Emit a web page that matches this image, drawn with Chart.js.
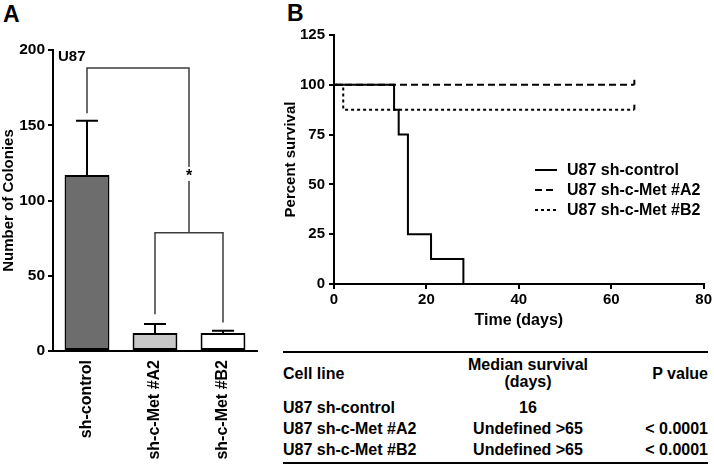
<!DOCTYPE html>
<html>
<head>
<meta charset="utf-8">
<script src="https://cdn.jsdelivr.net/npm/chart.js@4.4.1/dist/chart.umd.min.js"></script>
<style>
	html, body { margin: 0; padding: 0; }
	body { background: #fff; width: 714px; height: 467px; position: relative; overflow: hidden;
		font-family: "Liberation Sans", Arial, sans-serif; font-weight: bold; color: #000; }
	.panel { position: absolute; font-size: 23px; line-height: 1; }
	#colonyChart { position: absolute; left: 0; top: 0; }
	#survChart { position: absolute; left: 270px; top: 0; }
	#survTable { position: absolute; left: 283px; top: 351px; width: 425px; border-collapse: collapse;
		table-layout: fixed; font-size: 16px; border-top: 2px solid #000; }
	#survTable td, #survTable th { padding: 0; height: 21px; line-height: 17px; white-space: nowrap; }
	#survTable th { height: 40px; font-weight: bold; }
	#survTable tr.first td { padding-top: 4px; }
	.rule { position: absolute; left: 283px; top: 462px; width: 425px; height: 2px; background: #000; z-index: 5; }
	.c1 { text-align: left; width: 160px; }
	.c2 { text-align: center; width: 170px; }
	.c3 { text-align: right; width: 95px; }
</style>
</head>
<body>
<div class="panel" style="left:3px;top:3px">A</div>
<div class="panel" style="left:287px;top:2px">B</div>
<canvas id="colonyChart" width="262" height="467"></canvas>
<canvas id="survChart" width="444" height="334"></canvas>
<table id="survTable"></table>
<div class="rule"></div>

<script>
// panel A - colony counts
const colonyGroups = ["sh-control", "sh-c-Met #A2", "sh-c-Met #B2"];
const colonyMeans = [117, 12, 12];
const colonyErrors = [36, 6, 1.5];
const barColors = ["#6d6d6d", "#c8c8c8", "#ffffff"];
// significance brackets, in colony units
const bracketOuter = 188;
const bracketInner = 78.5;
const bracketLegs = [158, 24.5, 19];

// panel B - Kaplan-Meier curves
const survivalLabels = ["U87 sh-control", "U87 sh-c-Met #A2", "U87 sh-c-Met #B2"];
const controlDays = [0, 13, 14, 16, 21, 28];
const controlSurvival = [100, 87.5, 75, 25, 12.5, 0];
const a2Days = [0, 65];
const a2Survival = [100, 100];
const b2Days = [0, 2, 65];
const b2Survival = [100, 87.5, 87.5];

// table under panel B
const tableCellLines = ["U87 sh-control", "U87 sh-c-Met #A2", "U87 sh-c-Met #B2"];
const tableMedians = ["16", "Undefined >65", "Undefined >65"];
const tablePValues = ["", "< 0.0001", "< 0.0001"];

Chart.defaults.font.family = "'Liberation Sans', Arial, sans-serif";
Chart.defaults.font.weight = "bold";
Chart.defaults.font.size = 15;
Chart.defaults.color = "#000";

function toPoints(xs, ys) {
	return xs.map(function (x, i) {
		return { x: x, y: ys[i] };
	});
}

var colonyExtras = {
	id: "colonyExtras",
	afterDatasetsDraw: function (chart) {
		var ctx = chart.ctx;
		var y = chart.scales.y;
		var bars = chart.getDatasetMeta(0).data;
		ctx.save();

		// error bars (upper only)
		ctx.strokeStyle = "#000";
		ctx.lineWidth = 2;
		bars.forEach(function (bar, i) {
			var top = y.getPixelForValue(colonyMeans[i] + colonyErrors[i]);
			ctx.beginPath();
			ctx.moveTo(bar.x, bar.y);
			ctx.lineTo(bar.x, top);
			ctx.moveTo(bar.x - 11, top);
			ctx.lineTo(bar.x + 11, top);
			ctx.stroke();
		});

		// brackets
		var xm = (bars[1].x + bars[2].x) / 2;
		ctx.strokeStyle = "#3c3c3c";
		ctx.lineWidth = 1.5;
		ctx.beginPath();
		ctx.moveTo(bars[0].x, y.getPixelForValue(bracketLegs[0]));
		ctx.lineTo(bars[0].x, y.getPixelForValue(bracketOuter));
		ctx.lineTo(xm, y.getPixelForValue(bracketOuter));
		ctx.lineTo(xm, y.getPixelForValue(bracketInner));
		ctx.moveTo(bars[1].x, y.getPixelForValue(bracketLegs[1]));
		ctx.lineTo(bars[1].x, y.getPixelForValue(bracketInner));
		ctx.lineTo(bars[2].x, y.getPixelForValue(bracketInner));
		ctx.lineTo(bars[2].x, y.getPixelForValue(bracketLegs[2]));
		ctx.stroke();

		// asterisk over the bracket
		var ay = y.getPixelForValue(117);
		ctx.fillStyle = "#fff";
		ctx.fillRect(xm - 5, ay - 8, 10, 14);
		ctx.fillStyle = "#000";
		ctx.font = "bold 16px 'Liberation Sans', Arial";
		ctx.textAlign = "center";
		ctx.textBaseline = "middle";
		ctx.fillText("*", xm, ay + 2);

		// cell line label
		ctx.textAlign = "left";
		ctx.textBaseline = "top";
		ctx.font = "bold 15px 'Liberation Sans', Arial";
		ctx.fillText("U87", chart.chartArea.left + 5, y.getPixelForValue(200) - 1);
		ctx.restore();
	},
};

new Chart(document.getElementById("colonyChart"), {
	type: "bar",
	data: {
		labels: colonyGroups,
		datasets: [
			{
				data: colonyMeans,
				backgroundColor: barColors,
				borderColor: "#000",
				borderWidth: 2,
				borderSkipped: false,
				barPercentage: 0.66,
				categoryPercentage: 1,
			},
		],
	},
	options: {
		responsive: false,
		animation: false,
		layout: { padding: { top: 50, right: 5, left: 0, bottom: 0 } },
		plugins: { legend: { display: false }, tooltip: { enabled: false } },
		scales: {
			x: {
				grid: { display: false, drawTicks: false },
				border: { color: "#000", width: 2 },
				ticks: { minRotation: 90, maxRotation: 90, padding: 9, font: { size: 16 } },
				afterFit: function (s) { s.height = 116; },
			},
			y: {
				min: 0,
				max: 200,
				ticks: { stepSize: 50, padding: 3, font: { size: 15.5 } },
				grid: { drawOnChartArea: false, tickLength: 5, color: "#000", lineWidth: 2 },
				border: { color: "#000", width: 2 },
				title: { display: true, text: "Number of Colonies", font: { size: 15 }, padding: { top: 0, bottom: 0 } },
				afterFit: function (s) { s.width = 53; },
			},
		},
	},
	plugins: [colonyExtras],
});

var survExtras = {
	id: "survExtras",
	afterDatasetsDraw: function (chart) {
		var ctx = chart.ctx;
		var ca = chart.chartArea;
		ctx.save();
		ctx.strokeStyle = "#000";
		ctx.lineWidth = 2;

		// censor ticks at the end of the flat curves
		[1, 2].forEach(function (d) {
			var pts = chart.getDatasetMeta(d).data;
			var p = pts[pts.length - 1];
			ctx.beginPath();
			ctx.moveTo(p.x, p.y);
			ctx.lineTo(p.x, p.y - 5);
			ctx.stroke();
		});

		// legend
		ctx.font = "bold 16px 'Liberation Sans', Arial";
		ctx.fillStyle = "#000";
		ctx.textBaseline = "middle";
		chart.data.datasets.forEach(function (ds, i) {
			var ly = 170 + i * 20;
			var lx = ca.left + 201;
			ctx.setLineDash(ds.borderDash || []);
			ctx.beginPath();
			ctx.moveTo(lx, ly);
			ctx.lineTo(lx + 22, ly);
			ctx.stroke();
			ctx.setLineDash([]);
			ctx.fillText(ds.label, lx + 32, ly + 1);
		});
		ctx.restore();
	},
};

var lineStyle = {
	showLine: true,
	stepped: true,
	borderColor: "#000",
	borderWidth: 2,
	pointRadius: 0,
	fill: false,
	clip: false,
};

new Chart(document.getElementById("survChart"), {
	type: "scatter",
	data: {
		datasets: [
			Object.assign({ label: survivalLabels[0], data: toPoints(controlDays, controlSurvival), borderDash: [] }, lineStyle),
			Object.assign({ label: survivalLabels[1], data: toPoints(a2Days, a2Survival), borderDash: [7, 4] }, lineStyle),
			Object.assign({ label: survivalLabels[2], data: toPoints(b2Days, b2Survival), borderDash: [3, 3] }, lineStyle),
		],
	},
	options: {
		responsive: false,
		animation: false,
		layout: { padding: { top: 35, right: 9, left: 0, bottom: 0 } },
		plugins: { legend: { display: false }, tooltip: { enabled: false } },
		scales: {
			x: {
				type: "linear",
				min: 0,
				max: 80,
				ticks: { stepSize: 20, padding: 2, font: { size: 15 } },
				grid: { drawOnChartArea: false, tickLength: 5, color: "#000", lineWidth: 2 },
				border: { color: "#000", width: 2 },
				title: { display: true, text: "Time (days)", font: { size: 16 }, padding: { top: 0, bottom: 4 } },
				afterFit: function (s) { s.height = 50; },
			},
			y: {
				min: 0,
				max: 125,
				ticks: { stepSize: 25, padding: 4, font: { size: 15 } },
				grid: { drawOnChartArea: false, tickLength: 5, color: "#000", lineWidth: 2 },
				border: { color: "#000", width: 2 },
				title: { display: true, text: "Percent survival", font: { size: 15 }, padding: { top: 12, bottom: 0 } },
				afterFit: function (s) { s.width = 64; },
			},
		},
	},
	plugins: [survExtras],
});

// table
var table = document.getElementById("survTable");
var html = '<tr><th class="c1">Cell line</th><th class="c2">Median survival<br>(days)</th><th class="c3">P value</th></tr>';
tableCellLines.forEach(function (name, i) {
	var cls = i === 0 ? "first" : "";
	html += '<tr class="' + cls + '"><td class="c1">' + name + '</td><td class="c2">' +
		tableMedians[i].replace(">", "&gt;") + '</td><td class="c3">' + tablePValues[i].replace("<", "&lt;") + "</td></tr>";
});
table.innerHTML = html;
</script>
</body>
</html>
